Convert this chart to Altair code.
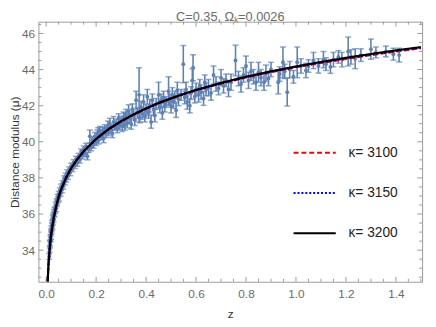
import altair as alt
import pandas as pd

# ---------------- data ----------------
sn_z = [0.012, 0.014, 0.015, 0.016, 0.017, 0.018, 0.019, 0.020, 0.021, 0.022,
        0.023, 0.024, 0.025, 0.026, 0.027, 0.028, 0.030, 0.031, 0.033, 0.034,
        0.036, 0.038, 0.040, 0.042, 0.044, 0.046, 0.048, 0.050, 0.052, 0.055,
        0.058, 0.060, 0.063, 0.066, 0.069, 0.072, 0.075, 0.078, 0.081, 0.084,
        0.088, 0.092, 0.096, 0.100,
        0.105, 0.110, 0.115, 0.120, 0.125, 0.130, 0.135, 0.140, 0.145, 0.150,
        0.155, 0.160, 0.165, 0.170, 0.175, 0.180, 0.185, 0.190, 0.195, 0.200,
        0.205, 0.208, 0.210, 0.215, 0.220, 0.225, 0.230, 0.235, 0.240, 0.247,
        0.250, 0.255, 0.260, 0.265, 0.270, 0.275, 0.280, 0.285, 0.290, 0.295,
        0.300, 0.305, 0.310, 0.313, 0.315,
        0.320, 0.325, 0.330, 0.335, 0.340, 0.345, 0.350, 0.355, 0.360, 0.365,
        0.372, 0.375, 0.380, 0.385, 0.390, 0.395, 0.400, 0.405, 0.410, 0.415,
        0.420, 0.425, 0.430, 0.435, 0.440, 0.450, 0.455, 0.460, 0.465, 0.470,
        0.475, 0.480, 0.490, 0.495, 0.500, 0.505, 0.510, 0.515, 0.520, 0.525,
        0.530, 0.540, 0.549, 0.555, 0.560, 0.565, 0.575, 0.580, 0.585, 0.588,
        0.595, 0.600, 0.610, 0.615, 0.620, 0.630, 0.635, 0.640, 0.650, 0.660,
        0.670, 0.680, 0.690, 0.700, 0.710, 0.720, 0.730, 0.740, 0.758, 0.770,
        0.780, 0.790, 0.800, 0.810, 0.820, 0.830, 0.840, 0.850, 0.860, 0.872,
        0.880, 0.890, 0.900, 0.929, 0.935, 0.948, 0.955, 0.965, 0.975, 0.990,
        1.005, 1.020, 1.040, 1.050, 1.070, 1.090, 1.110, 1.120, 1.138, 1.150,
        1.170, 1.184, 1.209, 1.220, 1.237, 1.260, 1.300, 1.320, 1.360, 1.390,
        1.413]
sn_mu = [33.65, 34.05, 34.40, 34.30, 34.70, 34.60, 35.00, 34.80, 35.20, 35.05,
         35.35, 35.50, 35.30, 35.80, 35.55, 35.90, 35.70, 36.10, 36.00, 36.25,
         36.20, 36.50, 36.30, 36.70, 36.60, 36.95, 36.80, 37.10, 36.90, 37.30,
         37.15, 37.50, 37.35, 37.70, 37.55, 37.95, 37.80, 38.10, 37.95, 38.30,
         38.10, 38.45, 38.30, 38.65,
         38.50, 38.85, 38.70, 39.05, 38.85, 39.20, 39.00, 39.45, 39.25, 39.60,
         39.35, 39.75, 39.20, 39.60, 40.30, 39.70, 40.10, 39.85, 40.30, 40.00,
         40.45, 40.45, 40.10, 40.60, 40.30, 40.60, 40.20, 40.75, 40.45, 40.85,
         40.55, 41.00, 40.70, 40.45, 41.10, 40.85, 41.00, 40.75, 41.30, 40.90,
         41.20, 40.85, 41.35, 41.30, 40.90,
         41.50, 41.05, 41.70, 41.30, 41.00, 41.80, 41.45, 41.20, 42.30, 41.60,
         42.60, 41.35, 41.90, 41.55, 42.20, 41.40, 41.75, 42.50, 41.60, 42.00,
         41.10, 42.30, 41.80, 41.45, 42.10, 42.60, 41.90, 42.30, 41.60, 42.45,
         42.00, 42.20, 42.80, 42.35, 41.95, 42.60, 42.20, 42.50, 41.75, 42.85,
         42.35, 42.60, 44.30, 42.45, 42.90, 42.20, 42.00, 42.70, 43.40, 44.10,
         42.50, 42.90, 42.60, 43.10, 42.75, 42.40, 43.30, 42.90, 43.00, 42.70,
         43.70, 43.20, 42.95, 43.55, 43.10, 43.40, 42.90, 43.30, 44.50, 43.50,
         43.20, 43.70, 44.20, 43.40, 43.90, 43.60, 43.30, 43.85, 43.55, 43.30,
         43.80, 43.50, 44.00, 43.30, 43.75, 44.40, 43.90, 42.75, 44.00, 43.60,
         44.40, 44.20, 43.95, 44.20, 44.50, 44.20, 44.55, 44.30, 44.15, 44.55,
         44.70, 44.55, 45.00, 44.70, 44.60, 44.80, 45.13, 44.95, 45.00, 44.85,
         44.80]
sn_err = [0.15, 0.15, 0.14, 0.18, 0.14, 0.15, 0.14, 0.20, 0.14, 0.16,
          0.15, 0.14, 0.18, 0.14, 0.15, 0.16, 0.14, 0.15, 0.15, 0.14,
          0.16, 0.15, 0.17, 0.15, 0.15, 0.14, 0.16, 0.15, 0.18, 0.15,
          0.16, 0.16, 0.17, 0.15, 0.17, 0.16, 0.18, 0.16, 0.17, 0.15,
          0.18, 0.16, 0.18, 0.16,
          0.15, 0.16, 0.18, 0.15, 0.20, 0.16, 0.18, 0.15, 0.20, 0.16,
          0.18, 0.17, 0.20, 0.18, 0.35, 0.20, 0.18, 0.20, 0.22, 0.20,
          0.20, 0.33, 0.22, 0.25, 0.20, 0.22, 0.25, 0.20, 0.22, 0.30,
          0.22, 0.30, 0.25, 0.22, 0.30, 0.22, 0.25, 0.25, 0.25, 0.25,
          0.22, 0.28, 0.30, 0.30, 0.25,
          0.30, 0.28, 0.35, 0.30, 0.30, 0.30, 0.25, 0.30, 0.50, 0.30,
          1.50, 0.30, 0.35, 0.30, 0.40, 0.30, 0.30, 0.40, 0.30, 0.35,
          0.35, 0.35, 0.30, 0.35, 0.30, 0.70, 0.30, 0.35, 0.35, 0.35,
          0.35, 0.30, 0.80, 0.30, 0.35, 0.40, 0.35, 0.30, 0.40, 0.45,
          0.35, 0.30, 1.03, 0.35, 0.40, 0.40, 0.40, 0.35, 0.65, 0.72,
          0.35, 0.35, 0.40, 0.35, 0.40, 0.38, 0.40, 0.35, 0.45, 0.40,
          0.50, 0.40, 0.35, 0.45, 0.40, 0.35, 0.40, 0.45, 0.85, 0.40,
          0.45, 0.40, 0.55, 0.45, 0.50, 0.40, 0.45, 0.55, 0.45, 0.45,
          0.45, 0.40, 0.40, 0.65, 0.40, 0.85, 0.40, 0.77, 0.45, 0.35,
          0.85, 0.40, 0.40, 0.35, 0.45, 0.40, 0.45, 0.35, 0.36, 0.40,
          0.35, 0.40, 0.80, 0.40, 0.55, 0.35, 0.56, 0.30, 0.30, 0.33,
          0.38]

curve_z = [0.005, 0.008, 0.010, 0.015, 0.020, 0.030, 0.040, 0.050, 0.060, 0.080,
           0.100, 0.120, 0.150, 0.200, 0.250, 0.300, 0.350, 0.400, 0.450, 0.500,
           0.550, 0.600, 0.700, 0.800, 0.900, 1.000, 1.100, 1.200, 1.300, 1.400,
           1.500]
mu_k3200 = [31.85, 32.87, 33.35, 34.23, 34.88, 35.76, 36.42, 36.95, 37.37, 38.02,
            38.53, 38.95, 39.47, 40.16, 40.70, 41.14, 41.52, 41.85, 42.15, 42.41,
            42.65, 42.87, 43.26, 43.60, 43.90, 44.17, 44.42, 44.65, 44.86, 45.06,
            45.24]
mu_k3150 = [31.85, 32.87, 33.35, 34.23, 34.88, 35.76, 36.42, 36.95, 37.37, 38.02,
            38.53, 38.95, 39.47, 40.16, 40.70, 41.13, 41.51, 41.84, 42.14, 42.40,
            42.64, 42.86, 43.24, 43.58, 43.88, 44.15, 44.39, 44.62, 44.83, 45.03,
            45.21]
mu_k3100 = [31.85, 32.87, 33.35, 34.23, 34.88, 35.76, 36.42, 36.95, 37.37, 38.02,
            38.53, 38.95, 39.47, 40.16, 40.70, 41.12, 41.50, 41.83, 42.13, 42.39,
            42.63, 42.85, 43.22, 43.56, 43.86, 44.13, 44.36, 44.59, 44.80, 45.00,
            45.18]
series_names = ["κ= 3100", "κ= 3150", "κ= 3200"]

x_major = [0.0, 0.2, 0.4, 0.6, 0.8, 1.0, 1.2, 1.4]
x_minor = [0.05, 0.1, 0.15, 0.25, 0.3, 0.35, 0.45, 0.5, 0.55, 0.65, 0.7, 0.75,
           0.85, 0.9, 0.95, 1.05, 1.1, 1.15, 1.25, 1.3, 1.35, 1.45, 1.5]
y_major = [34, 36, 38, 40, 42, 44, 46]
y_minor = [32.5, 33, 33.5, 34.5, 35, 35.5, 36.5, 37, 37.5, 38.5, 39, 39.5,
           40.5, 41, 41.5, 42.5, 43, 43.5, 44.5, 45, 45.5, 46.5]

# ---------------- tables ----------------
sn = pd.DataFrame({"z": sn_z, "mu": sn_mu, "err": sn_err})
sn["lo"] = sn["mu"] - sn["err"]
sn["hi"] = sn["mu"] + sn["err"]

curves = pd.concat([
    pd.DataFrame({"z": curve_z, "mu": mus, "series": name})
    for name, mus in zip(series_names, [mu_k3100, mu_k3150, mu_k3200])
])

W, H = 391, 265
BLUE = "#5E81B5"
FRAME = "#9a9a9a"

xs = alt.Scale(domain=[-0.031, 1.505], nice=False, zero=False)
ys = alt.Scale(domain=[32.25, 46.65], nice=False, zero=False)
x_axis = alt.Axis(values=x_major, format=".1f", ticks=False, domain=False, grid=False,
                  labelPadding=7, titlePadding=9)
y_axis = alt.Axis(values=y_major, format="d", ticks=False, domain=False, grid=False,
                  labelPadding=4, titlePadding=0)
XT = "z"
YT = "Distance modulus (μ)"

def X(f):
    return alt.X(f, type="quantitative", scale=xs, axis=x_axis, title=XT)

def Y(f):
    return alt.Y(f, type="quantitative", scale=ys, axis=y_axis, title=YT)

bars = alt.Chart(sn).mark_rule(color=BLUE, strokeWidth=1.6).encode(
    x=X("z"), y=Y("lo"), y2="hi")
cap_lo = alt.Chart(sn).mark_tick(color=BLUE, orient="horizontal", size=6, thickness=1.5).encode(
    x=X("z"), y=Y("lo"))
cap_hi = alt.Chart(sn).mark_tick(color=BLUE, orient="horizontal", size=6, thickness=1.5).encode(
    x=X("z"), y=Y("hi"))
pts = alt.Chart(sn).mark_circle(color=BLUE, size=16, opacity=1).encode(
    x=X("z"), y=Y("mu"))

lines = alt.Chart(curves).mark_line(clip=True, strokeWidth=2.2).encode(
    x=X("z"), y=Y("mu"),
    color=alt.Color("series:N", scale=alt.Scale(domain=series_names,
                                                range=["#ff0000", "#0000ff", "#000000"]),
                    title=None),
    strokeDash=alt.StrokeDash("series:N", scale=alt.Scale(domain=series_names,
                                                          range=[[5, 3], [2, 2], [1, 0]]),
                              title=None),
    detail="series:N",
)

def tick_layer(vals, horizontal, length, at_far):
    df = pd.DataFrame({"v": vals})
    if horizontal:
        if at_far:
            enc = dict(x=X("v"), y=alt.value(0), y2=alt.value(length))
        else:
            enc = dict(x=X("v"), y=alt.value(H), y2=alt.value(H - length))
    else:
        if at_far:
            enc = dict(y=Y("v"), x=alt.value(W), x2=alt.value(W - length))
        else:
            enc = dict(y=Y("v"), x=alt.value(0), x2=alt.value(length))
    return alt.Chart(df).mark_rule(color=FRAME, strokeWidth=1).encode(**enc)

ticks = [
    tick_layer(x_major, True, 5, False), tick_layer(x_major, True, 5, True),
    tick_layer(x_minor, True, 3, False), tick_layer(x_minor, True, 3, True),
    tick_layer(y_major, False, 5, False), tick_layer(y_major, False, 5, True),
    tick_layer(y_minor, False, 3, False), tick_layer(y_minor, False, 3, True),
]

chart = alt.layer(*ticks, bars, cap_lo, cap_hi, pts, lines).properties(
    width=W, height=H,
    title=alt.TitleParams("C=0.35, Ωₖ=0.0026", fontSize=13, color="#6b6b6b",
                          font="Liberation Sans", fontWeight="normal",
                          baseline="alphabetic", offset=3, dy=16, anchor="middle"),
    autosize=alt.AutoSizeParams(type="none"),
    padding={"left": 31, "top": 11, "right": 6, "bottom": 35},
).configure_view(
    stroke=FRAME, strokeWidth=1
).configure_axis(
    labelFont="Liberation Sans", labelFontSize=12, labelColor="#6b6b6b",
    titleFont="Liberation Sans", titleFontSize=12, titleColor="#333333",
    titleFontWeight="normal",
).configure_legend(
    orient="none", legendX=259, legendY=111, padding=0,
    symbolType="stroke", symbolSize=1849, symbolStrokeWidth=2,
    labelFont="Liberation Sans", labelFontSize=14, labelColor="#222222",
    labelOffset=12, rowPadding=11, direction="vertical",
)

chart.save("out.html", embed_options={"renderer": "svg", "actions": False})
